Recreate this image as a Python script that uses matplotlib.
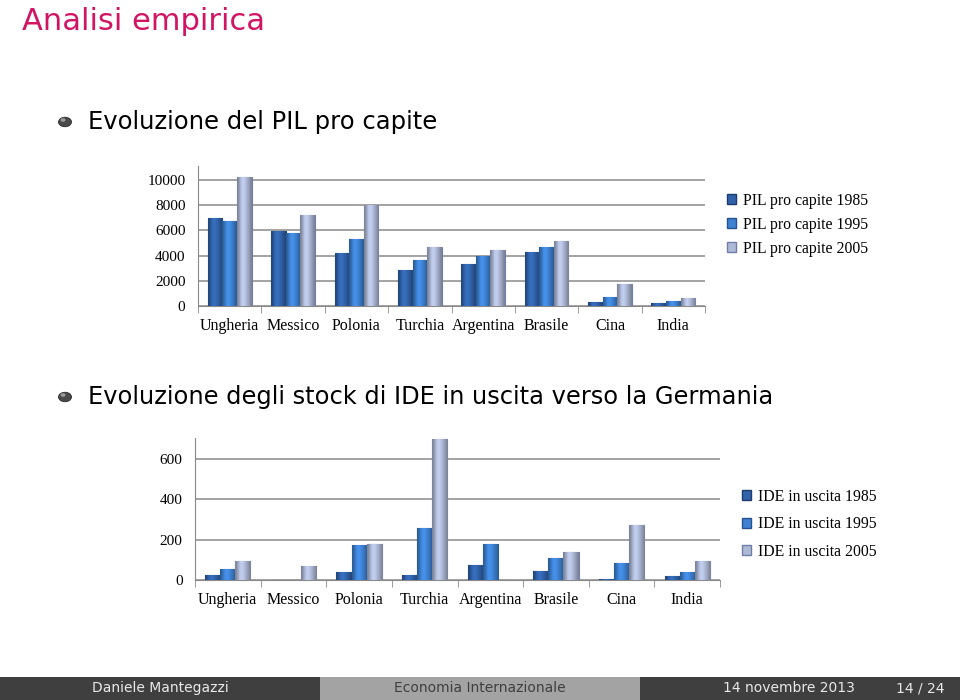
import matplotlib
matplotlib.use('Agg')
import matplotlib.pyplot as plt
import numpy as np
from matplotlib.colors import to_rgb
from matplotlib.patches import Rectangle, Circle, Patch

# dati
countries = ['Ungheria', 'Messico', 'Polonia', 'Turchia', 'Argentina',
             'Brasile', 'Cina', 'India']
pil_1985 = [6950, 5980, 4200, 2870, 3320, 4310, 320, 270]
pil_1995 = [6730, 5800, 5320, 3620, 3940, 4680, 720, 370]
pil_2005 = [10200, 7210, 8000, 4650, 4410, 5190, 1730, 660]
pil_labels = ['PIL pro capite 1985', 'PIL pro capite 1995', 'PIL pro capite 2005']
pil_ticks = [0, 2000, 4000, 6000, 8000, 10000]

ide_1985 = [23, 0, 40, 23, 76, 43, 7, 18]
ide_1995 = [54, 0, 173, 259, 180, 109, 86, 40]
ide_2005 = [94, 71, 178, 700, 0, 138, 275, 92]
ide_labels = ['IDE in uscita 1985', 'IDE in uscita 1995', 'IDE in uscita 2005']
ide_ticks = [0, 200, 400, 600]

W, H = 960, 700
SERIF = 'Liberation Serif'
SANS = 'DejaVu Sans'
face = ['#3163ab', '#3f82d3', '#aeb9d6']
edge = ['#1d3b6a', '#25528e', '#6f7ea6']


def rect(l, t, r, b):
    """pixel -> frazioni di figura"""
    return [l / W, 1 - b / H, (r - l) / W, (b - t) / H]


def gradient(color):
    # sfumatura orizzontale: bordi scuri, centro chiaro
    c = np.array(to_rgb(color))
    prof = np.array([0.72, 0.9, 1.08, 1.12, 1.05, 0.95, 0.85, 0.72])
    img = np.clip(c[None, :] * prof[:, None], 0, 1)
    return img[None, :, :]


def bar_chart(ax, series, ylim, yticks):
    x = np.arange(len(countries))
    w = 0.23
    for i, vals in enumerate(series):
        bars = ax.bar(x + (i - 1) * w, vals, w, color=face[i], edgecolor=edge[i],
                      linewidth=0.8, zorder=3)
        img = gradient(face[i])
        for b in bars:
            if b.get_height() <= 0:
                continue
            im = ax.imshow(img, extent=(b.get_x(), b.get_x() + b.get_width(),
                                        0, b.get_height()),
                           aspect='auto', zorder=3.5, interpolation='bilinear')
            im.set_clip_path(b)
    ax.set_xlim(-0.5, len(countries) - 0.5)
    ax.set_ylim(*ylim)
    ax.set_yticks(yticks)
    ax.set_yticklabels([str(t) for t in yticks], fontfamily=SERIF, fontsize=11)
    ax.yaxis.grid(True, color='#8a8a8a', linewidth=1.1, zorder=0)
    ax.tick_params(axis='y', length=0, pad=9)
    ax.set_xticks(x)
    ax.set_xticklabels(countries, fontfamily=SERIF, fontsize=11.5)
    for lbl in ax.get_xticklabels():
        lbl.set_verticalalignment('baseline')
    ax.set_xticks(np.arange(len(countries) + 1) - 0.5, minor=True)
    ax.tick_params(axis='x', which='major', length=0, pad=17)
    ax.tick_params(axis='x', which='minor', length=5, color='#8a8a8a')
    for s in ['top', 'right']:
        ax.spines[s].set_visible(False)
    for s in ['left', 'bottom']:
        ax.spines[s].set_color('#8a8a8a')
    ax.set_axisbelow(True)


def legend(fig, labels, x, y, spacing):
    handles = [Patch(facecolor=face[i], edgecolor=edge[i]) for i in range(3)]
    fig.legend(handles, labels, loc='upper left', bbox_to_anchor=(x / W, 1 - y / H),
               frameon=False, prop={'family': SERIF, 'size': 11.3},
               handlelength=0.6, handleheight=0.6, handletextpad=0.4,
               labelspacing=spacing, borderpad=0, borderaxespad=0)


def bullet(fig, x, y, text, size):
    fig.patches.append(Circle((x / W, 1 - y / H), 6.5 / W, transform=fig.transFigure,
                              facecolor='#4a4a4a', edgecolor='#2a2a2a', lw=0.6))
    fig.patches.append(Circle(((x - 2) / W, 1 - (y - 2) / H), 2.5 / W,
                              transform=fig.transFigure, facecolor='#9a9a9a',
                              edgecolor='none'))
    fig.text(88 / W, 1 - y / H, text, fontsize=size, family=SANS,
             va='center', ha='left', color='black')


fig = plt.figure(figsize=(W / 100, H / 100), dpi=100)

fig.text(22 / W, 1 - 22 / H, 'Analisi empirica', fontsize=22, family=SANS,
         color='#d11563', va='center', ha='left')

bullet(fig, 65, 122, 'Evoluzione del PIL pro capite', 17.5)
bullet(fig, 65, 397, 'Evoluzione degli stock di IDE in uscita verso la Germania', 17.4)

ax1 = fig.add_axes(rect(198, 166, 705, 306))
bar_chart(ax1, [pil_1985, pil_1995, pil_2005], (0, 11100), pil_ticks)
legend(fig, pil_labels, 727, 193, 0.5)

ax2 = fig.add_axes(rect(195, 438, 720, 580))
bar_chart(ax2, [ide_1985, ide_1995, ide_2005], (0, 705), ide_ticks)
legend(fig, ide_labels, 742, 489, 0.72)

# piè di pagina beamer
fig.patches.append(Rectangle((0, 0), 320 / W, 23 / H, transform=fig.transFigure,
                             facecolor='#3f3f3f', edgecolor='none'))
fig.patches.append(Rectangle((320 / W, 0), 320 / W, 23 / H, transform=fig.transFigure,
                             facecolor='#a3a3a3', edgecolor='none'))
fig.patches.append(Rectangle((640 / W, 0), 320 / W, 23 / H, transform=fig.transFigure,
                             facecolor='#3f3f3f', edgecolor='none'))
fy = 1 - 688 / H
fig.text(160 / W, fy, 'Daniele Mantegazzi', fontsize=10, family=SANS,
         color='#e8e8e8', ha='center', va='center')
fig.text(480 / W, fy, 'Economia Internazionale', fontsize=10, family=SANS,
         color='#3f3f3f', ha='center', va='center')
fig.text(855 / W, fy, '14 novembre 2013', fontsize=10, family=SANS,
         color='#e8e8e8', ha='right', va='center')
fig.text(945 / W, fy, '14 / 24', fontsize=10, family=SANS,
         color='#e8e8e8', ha='right', va='center')

fig.savefig('out.png', dpi=100)
